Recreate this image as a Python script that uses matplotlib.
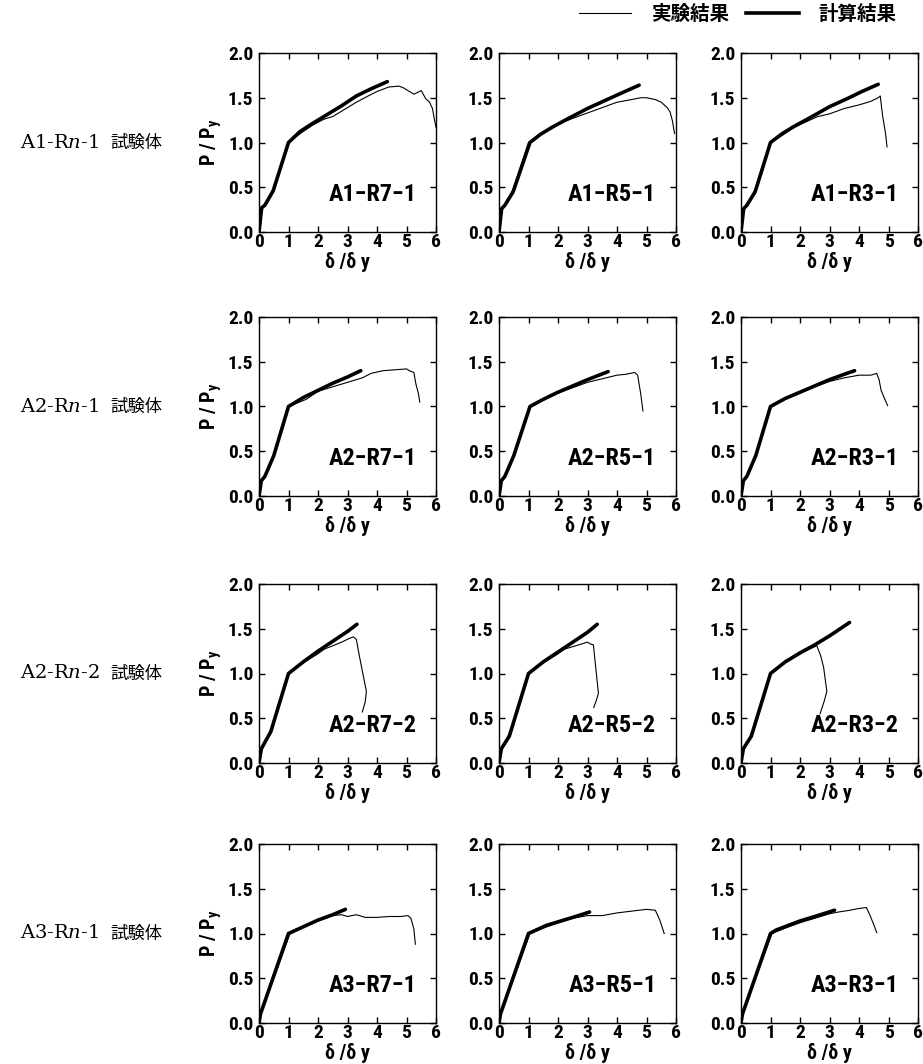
import numpy as np
import matplotlib
matplotlib.use("Agg")
import matplotlib.pyplot as plt
from matplotlib import font_manager as fm
from matplotlib.lines import Line2D

# pick a narrow bold sans if one is installed
entries = fm.fontManager.ttflist
names = {f.name for f in entries}
narrow = None
for n in ["Liberation Sans Narrow", "Roboto Condensed", "DejaVu Sans Condensed", "Open Sans Condensed"]:
    if n in names:
        narrow = dict(family=n)
        break
if narrow is None:
    for f in entries:
        if f.name == "DejaVu Sans" and str(f.stretch) in ("condensed", "semi-condensed"):
            narrow = dict(family="DejaVu Sans", stretch="condensed")
            break
if narrow is None:
    narrow = dict(family="Roboto" if "Roboto" in names else "DejaVu Sans")
NARROW = narrow["family"]

plt.rcParams["mathtext.fontset"] = "custom"
plt.rcParams["mathtext.it"] = "DejaVu Serif:italic"
plt.rcParams["mathtext.bf"] = NARROW + ":bold"

# ---------- data ----------
row_labels = ["A1-R$n$-1", "A2-R$n$-1", "A2-R$n$-2", "A3-R$n$-1"]
panel_names = [["A1−R7−1", "A1−R5−1", "A1−R3−1"],
               ["A2−R7−1", "A2−R5−1", "A2−R3−1"],
               ["A2−R7−2", "A2−R5−2", "A2−R3−2"],
               ["A3−R7−1", "A3−R5−1", "A3−R3−1"]]

# experiment (thin) and calculation (thick)
a1r7_exp_x = [0, 0.05, 0.1, 0.3, 0.5, 1.0, 1.4, 1.8, 2.2, 2.5, 3.0, 3.3, 3.7, 4.0, 4.4, 4.75, 4.9, 5.1, 5.25, 5.5, 5.65, 5.78, 5.88, 5.95, 6.0]
a1r7_exp_y = [0, 0.22, 0.27, 0.35, 0.5, 1.0, 1.1, 1.19, 1.26, 1.29, 1.39, 1.45, 1.52, 1.57, 1.62, 1.63, 1.61, 1.57, 1.54, 1.58, 1.49, 1.45, 1.38, 1.25, 1.17]
a1r7_cal_x = [0, 0.09, 0.2, 0.48, 1.0, 1.38, 1.8, 2.2, 2.8, 3.3, 3.8, 4.35]
a1r7_cal_y = [0, 0.27, 0.3, 0.46, 1.0, 1.12, 1.21, 1.29, 1.41, 1.52, 1.6, 1.68]

a1r5_exp_x = [0, 0.05, 0.1, 0.3, 0.5, 1.0, 1.4, 1.8, 2.2, 2.5, 3.0, 3.5, 4.0, 4.5, 4.8, 5.0, 5.3, 5.5, 5.7, 5.8, 5.88, 5.95]
a1r5_exp_y = [0, 0.2, 0.26, 0.34, 0.5, 1.0, 1.09, 1.17, 1.23, 1.27, 1.33, 1.39, 1.45, 1.48, 1.5, 1.5, 1.48, 1.45, 1.39, 1.34, 1.24, 1.1]
a1r5_cal_x = [0, 0.09, 0.2, 0.48, 1.05, 1.4, 1.8, 2.3, 3.0, 3.6, 4.2, 4.75]
a1r5_cal_y = [0, 0.26, 0.3, 0.45, 1.0, 1.09, 1.17, 1.26, 1.38, 1.47, 1.56, 1.64]

a1r3_exp_x = [0, 0.05, 0.1, 0.3, 0.5, 1.0, 1.4, 1.8, 2.2, 2.6, 3.0, 3.5, 4.0, 4.4, 4.65, 4.72, 4.8, 4.9, 4.95]
a1r3_exp_y = [0, 0.2, 0.26, 0.33, 0.5, 1.0, 1.08, 1.17, 1.23, 1.29, 1.32, 1.38, 1.42, 1.46, 1.5, 1.52, 1.3, 1.1, 0.95]
a1r3_cal_x = [0, 0.09, 0.2, 0.48, 1.0, 1.4, 1.8, 2.3, 3.0, 3.6, 4.1, 4.65]
a1r3_cal_y = [0, 0.26, 0.3, 0.45, 1.0, 1.1, 1.18, 1.27, 1.4, 1.49, 1.57, 1.65]

a2r7_exp_x = [0, 0.05, 0.15, 0.5, 1.0, 1.3, 1.6, 2.0, 2.5, 3.0, 3.5, 3.8, 4.2, 4.6, 5.0, 5.1, 5.25, 5.32, 5.4, 5.45]
a2r7_exp_y = [0, 0.15, 0.2, 0.45, 1.0, 1.04, 1.08, 1.17, 1.22, 1.27, 1.32, 1.37, 1.4, 1.41, 1.42, 1.4, 1.38, 1.25, 1.15, 1.05]
a2r7_cal_x = [0, 0.08, 0.2, 0.5, 1.0, 1.5, 2.0, 2.5, 3.0, 3.45]
a2r7_cal_y = [0, 0.17, 0.22, 0.45, 1.0, 1.1, 1.18, 1.26, 1.33, 1.4]

a2r5_exp_x = [0, 0.05, 0.15, 0.5, 1.05, 1.5, 2.0, 2.5, 3.0, 3.5, 4.0, 4.3, 4.6, 4.7, 4.8, 4.88]
a2r5_exp_y = [0, 0.15, 0.2, 0.45, 1.0, 1.08, 1.15, 1.21, 1.27, 1.31, 1.35, 1.36, 1.38, 1.35, 1.15, 0.95]
a2r5_cal_x = [0, 0.08, 0.2, 0.5, 1.05, 1.5, 2.0, 2.5, 3.0, 3.7]
a2r5_cal_y = [0, 0.17, 0.22, 0.45, 1.0, 1.08, 1.16, 1.23, 1.3, 1.39]

a2r3_exp_x = [0, 0.05, 0.15, 0.5, 1.0, 1.5, 2.0, 2.5, 3.0, 3.5, 4.0, 4.4, 4.6, 4.68, 4.75, 4.85, 4.97]
a2r3_exp_y = [0, 0.15, 0.2, 0.45, 1.0, 1.08, 1.15, 1.22, 1.28, 1.32, 1.35, 1.35, 1.37, 1.3, 1.18, 1.1, 1.01]
a2r3_cal_x = [0, 0.08, 0.2, 0.5, 1.0, 1.5, 2.0, 2.5, 3.0, 3.5, 3.85]
a2r3_cal_y = [0, 0.17, 0.22, 0.45, 1.0, 1.09, 1.16, 1.23, 1.3, 1.36, 1.4]

a2r7b_exp_x = [0, 0.05, 0.15, 0.5, 1.0, 1.5, 2.0, 2.2, 2.5, 2.8, 3.05, 3.2, 3.3, 3.4, 3.55, 3.64, 3.6, 3.5]
a2r7b_exp_y = [0, 0.13, 0.18, 0.45, 1.0, 1.12, 1.22, 1.27, 1.31, 1.35, 1.39, 1.41, 1.38, 1.2, 0.95, 0.8, 0.68, 0.57]
a2r7b_cal_x = [0, 0.08, 0.4, 1.0, 1.5, 2.0, 2.5, 3.0, 3.32]
a2r7b_cal_y = [0, 0.16, 0.35, 1.0, 1.13, 1.25, 1.36, 1.47, 1.55]

a2r5b_exp_x = [0, 0.05, 0.15, 0.5, 1.0, 1.5, 2.0, 2.2, 2.5, 2.8, 3.0, 3.1, 3.2, 3.3, 3.37, 3.3, 3.21]
a2r5b_exp_y = [0, 0.13, 0.18, 0.45, 1.0, 1.12, 1.22, 1.27, 1.3, 1.33, 1.35, 1.33, 1.32, 1.0, 0.78, 0.7, 0.62]
a2r5b_cal_x = [0, 0.08, 0.35, 1.0, 1.5, 2.0, 2.5, 3.0, 3.33]
a2r5b_cal_y = [0, 0.16, 0.3, 1.0, 1.13, 1.24, 1.35, 1.46, 1.55]

a2r3b_exp_x = [0, 0.05, 0.15, 0.5, 1.0, 1.5, 2.0, 2.3, 2.57, 2.7, 2.8, 2.91, 2.82, 2.68]
a2r3b_exp_y = [0, 0.13, 0.18, 0.45, 1.0, 1.12, 1.22, 1.27, 1.31, 1.2, 1.07, 0.8, 0.69, 0.55]
a2r3b_cal_x = [0, 0.08, 0.35, 1.0, 1.5, 2.0, 2.5, 3.0, 3.68]
a2r3b_cal_y = [0, 0.16, 0.3, 1.0, 1.13, 1.23, 1.32, 1.42, 1.57]

a3r7_exp_x = [0, 0.05, 0.5, 1.05, 1.5, 2.0, 2.5, 2.8, 3.0, 3.3, 3.6, 4.0, 4.4, 4.8, 5.05, 5.15, 5.25, 5.3]
a3r7_exp_y = [0, 0.1, 0.5, 1.0, 1.07, 1.14, 1.2, 1.21, 1.19, 1.21, 1.18, 1.18, 1.19, 1.19, 1.2, 1.17, 1.05, 0.88]
a3r7_cal_x = [0, 0.05, 1.0, 1.2, 1.6, 2.0, 2.5, 2.93]
a3r7_cal_y = [0, 0.1, 1.0, 1.03, 1.09, 1.15, 1.21, 1.27]

a3r5_exp_x = [0, 0.05, 0.5, 1.05, 1.5, 2.0, 2.5, 3.0, 3.5, 4.0, 4.5, 5.0, 5.3, 5.45, 5.6]
a3r5_exp_y = [0, 0.1, 0.5, 1.0, 1.06, 1.12, 1.17, 1.2, 1.2, 1.23, 1.25, 1.27, 1.26, 1.15, 1.0]
a3r5_cal_x = [0, 0.05, 1.0, 1.2, 1.6, 2.0, 2.5, 3.07]
a3r5_cal_y = [0, 0.1, 1.0, 1.03, 1.09, 1.13, 1.18, 1.24]

a3r3_exp_x = [0, 0.05, 0.5, 1.05, 1.5, 2.0, 2.5, 3.0, 3.3, 3.7, 4.0, 4.25, 4.35, 4.5, 4.6]
a3r3_exp_y = [0, 0.1, 0.5, 1.0, 1.06, 1.12, 1.17, 1.22, 1.24, 1.26, 1.28, 1.29, 1.22, 1.1, 1.01]
a3r3_cal_x = [0, 0.05, 1.0, 1.2, 1.6, 2.0, 2.5, 3.17]
a3r3_cal_y = [0, 0.1, 1.0, 1.04, 1.09, 1.14, 1.19, 1.26]

exp_curves = [[(a1r7_exp_x, a1r7_exp_y), (a1r5_exp_x, a1r5_exp_y), (a1r3_exp_x, a1r3_exp_y)],
              [(a2r7_exp_x, a2r7_exp_y), (a2r5_exp_x, a2r5_exp_y), (a2r3_exp_x, a2r3_exp_y)],
              [(a2r7b_exp_x, a2r7b_exp_y), (a2r5b_exp_x, a2r5b_exp_y), (a2r3b_exp_x, a2r3b_exp_y)],
              [(a3r7_exp_x, a3r7_exp_y), (a3r5_exp_x, a3r5_exp_y), (a3r3_exp_x, a3r3_exp_y)]]
cal_curves = [[(a1r7_cal_x, a1r7_cal_y), (a1r5_cal_x, a1r5_cal_y), (a1r3_cal_x, a1r3_cal_y)],
              [(a2r7_cal_x, a2r7_cal_y), (a2r5_cal_x, a2r5_cal_y), (a2r3_cal_x, a2r3_cal_y)],
              [(a2r7b_cal_x, a2r7b_cal_y), (a2r5b_cal_x, a2r5b_cal_y), (a2r3b_cal_x, a2r3b_cal_y)],
              [(a3r7_cal_x, a3r7_cal_y), (a3r5_cal_x, a3r5_cal_y), (a3r3_cal_x, a3r3_cal_y)]]

xticks = [0, 1, 2, 3, 4, 5, 6]
yticks = [0.0, 0.5, 1.0, 1.5, 2.0]

# ---------- layout (pixels of a 923x1064 canvas) ----------
W, H = 923, 1064
col_left = [259, 499, 741]
row_top = [53, 317, 584, 844]
aw, ah = 177, 179

fig = plt.figure(figsize=(W / 100, H / 100), dpi=100)
tick_font = dict(narrow, weight="bold", size=14)
lab_font = dict(narrow, weight="bold", size=14.5)

for r in range(4):
    for c in range(3):
        ax = fig.add_axes([col_left[c] / W, 1 - (row_top[r] + ah) / H, aw / W, ah / H])
        ex, ey = exp_curves[r][c]
        cx, cy = cal_curves[r][c]
        ax.plot(ex, ey, color="black", lw=0.8)
        ax.plot(cx, cy, color="black", lw=2.6, solid_capstyle="round")
        ax.set_xlim(0, 6)
        ax.set_ylim(0, 2)
        ax.set_xticks(xticks)
        ax.set_yticks(yticks)
        ax.set_xticklabels([str(t) for t in xticks], **tick_font)
        ax.set_yticklabels([f"{t:.1f}" for t in yticks], **tick_font)
        ax.tick_params(direction="in", top=True, right=True, length=4, width=1, pad=4)
        ax.tick_params(axis="x", pad=1)
        for s in ax.spines.values():
            s.set_linewidth(1.0)
        ax.set_xlabel("δ /δ y", va="center", **lab_font)
        ax.xaxis.set_label_coords(0.5, -0.17)
        if c == 0:
            ax.set_ylabel("P / P$_\\mathbf{y}$", labelpad=3, **lab_font)
        ax.text(0.64, 0.21, panel_names[r][c], transform=ax.transAxes, ha="center", va="center",
                **dict(narrow, weight="bold", size=17.5))
    yc = 1 - (row_top[r] + ah / 2) / H
    fig.text(20 / W, yc, row_labels[r], family="DejaVu Serif", size=14, va="center", ha="left")
    fig.text(110 / W, yc, "試験体", family="Noto Sans CJK JP", size=12.5, va="center", ha="left")

handles = [Line2D([], [], color="black", lw=0.8), Line2D([], [], color="black", lw=2.6)]
fig.legend(handles, ["実験結果", "計算結果"], loc="upper right", bbox_to_anchor=(0.99, 1.012), ncol=2,
           frameon=False, handlelength=2.7, columnspacing=0.9, handletextpad=1.0,
           prop=dict(family="Noto Sans CJK JP", weight="bold", size=14))

fig.savefig("out.png", dpi=100)
